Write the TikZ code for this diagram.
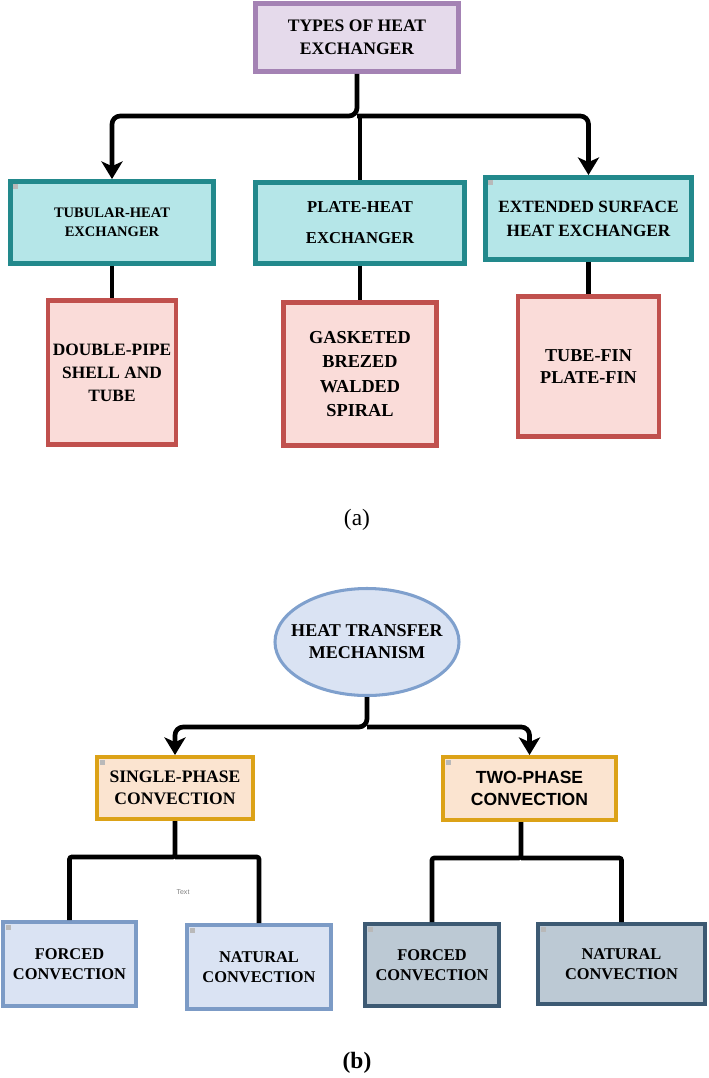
\documentclass[tikz,border=0pt]{standalone}
\usepackage{fontspec}
\setmainfont{Liberation Serif}
\newfontfamily\arialfont{Liberation Sans}
\usetikzlibrary{arrows.meta}
\usetikzlibrary{shapes.geometric}

\definecolor{lavender}{HTML}{E5DAEB}
\definecolor{purpleline}{HTML}{A482B4}
\definecolor{lightcyan}{HTML}{B5E6E8}
\definecolor{tealline}{HTML}{22898C}
\definecolor{pinkfill}{HTML}{FADCD9}
\definecolor{redline}{HTML}{C0504D}
\definecolor{paleblue}{HTML}{DAE3F3}
\definecolor{ellipseline}{HTML}{7FA0CD}
\definecolor{peach}{HTML}{FBE4D0}
\definecolor{goldline}{HTML}{DCA217}
\definecolor{blueline}{HTML}{7C9BC6}
\definecolor{slatefill}{HTML}{BCC9D4}
\definecolor{slateline}{HTML}{3D5A73}

\newcommand{\boxfont}[2]{\fontsize{#1}{#2}\selectfont\bfseries}

\tikzset{
    box/.style={draw, rectangle, align=center, inner sep=0pt},
    typebox/.style={box, draw=purpleline, fill=lavender, line width=4.2pt},
    kindbox/.style={box, draw=tealline, fill=lightcyan, line width=4.2pt},
    listbox/.style={box, draw=redline, fill=pinkfill, line width=4.2pt},
    phasebox/.style={box, draw=goldline, fill=peach, line width=3.4pt},
    singlebox/.style={box, draw=blueline, fill=paleblue, line width=3.4pt,
        font=\boxfont{14pt}{17pt}},
    twobox/.style={box, draw=slateline, fill=slatefill, line width=3.4pt,
        font=\boxfont{14pt}{17pt}},
    link/.style={line width=4pt, black},
    arrowed/.style={-{Stealth[length=15pt,width=18pt,inset=4pt]}},
    collapseicon/.style={fill=gray!55},
}

\begin{document}
\begin{tikzpicture}[x=0.03cm, y=-0.03cm]
    \useasboundingbox (0,0) rectangle (709,1078);

    \node[typebox, minimum width=6.09cm, minimum height=2.04cm, font=\boxfont{15pt}{19.6pt}]
        (types) at (357,37.5) {TYPES OF HEAT\\EXCHANGER};

    \node[kindbox, minimum width=6.09cm, minimum height=2.46cm, font=\boxfont{12.4pt}{16.2pt}]
        (tubular) at (112,222.5) {TUBULAR-HEAT\\EXCHANGER};
    \node[kindbox, minimum width=6.27cm, minimum height=2.43cm, font=\boxfont{14.2pt}{26.5pt}]
        (plate) at (360,223) {PLATE-HEAT\\EXCHANGER};
    \node[kindbox, minimum width=6.18cm, minimum height=2.46cm, font=\boxfont{14.7pt}{20.5pt}]
        (extended) at (588.5,218.5) {EXTENDED SURFACE\\HEAT EXCHANGER};

    \node[listbox, minimum width=3.84cm, minimum height=4.32cm, font=\boxfont{14.8pt}{19.6pt}]
        (tubularlist) at (112,372.5) {DOUBLE-PIPE\\SHELL AND\\TUBE};
    \node[listbox, minimum width=4.59cm, minimum height=4.29cm, font=\boxfont{15.6pt}{21pt}]
        (platelist) at (360,374) {GASKETED\\BREZED\\WALDED\\SPIRAL};
    \node[listbox, minimum width=4.23cm, minimum height=4.2cm, font=\boxfont{15.5pt}{19.4pt}]
        (extendedlist) at (588.5,366.5) {TUBE-FIN\\PLATE-FIN};

    \node[font=\fontsize{20pt}{24pt}\selectfont] (captiona) at (357,520) {(a)};

    \coordinate (busA) at (357,116);
    \draw[link, rounded corners=7pt, arrowed] (types.south) -- (busA) -| (tubular.north);
    \draw[link, rounded corners=7pt, arrowed] (busA) -| (extended.north);
    \draw[link] (plate.north |- busA) -- (plate.north);
    \draw[link] (tubular.south) -- (tubularlist.north);
    \draw[link] (plate.south) -- (platelist.north);
    \draw[link] (extended.south) -- (extendedlist.north);

    \node[ellipse, draw=ellipseline, fill=paleblue, line width=2.6pt, minimum width=5.52cm,
        minimum height=3.21cm, inner xsep=-12pt, inner ysep=0pt, align=center,
        font=\boxfont{15.4pt}{18.8pt}] (mechanism) at (367,642) {HEAT TRANSFER\\MECHANISM};

    \node[phasebox, minimum width=4.68cm, minimum height=1.86cm, font=\boxfont{15pt}{18.8pt}]
        (single) at (175,788) {SINGLE-PHASE\\CONVECTION};
    \node[phasebox, minimum width=5.19cm, minimum height=1.89cm, font=\arialfont\boxfont{15pt}{18.8pt}]
        (two) at (529.5,788.5) {TWO-PHASE\\CONVECTION};

    \node[singlebox, minimum width=3.99cm, minimum height=2.52cm]
        (forcedA) at (69.5,964) {FORCED\\CONVECTION};
    \node[singlebox, minimum width=4.32cm, minimum height=2.52cm]
        (naturalA) at (259,967) {NATURAL\\CONVECTION};
    \node[twobox, minimum width=4.02cm, minimum height=2.46cm]
        (forcedB) at (432,965) {FORCED\\CONVECTION};
    \node[twobox, minimum width=5.01cm, minimum height=2.4cm]
        (naturalB) at (621.5,964) {NATURAL\\CONVECTION};

    \node[font=\arialfont\fontsize{6pt}{7pt}\selectfont, text=gray] (textlabel) at (183,892) {Text};

    \node[font=\bfseries\fontsize{20pt}{24pt}\selectfont] (captionb) at (357,1063) {(b)};

    \coordinate (busB) at (367,727);
    \draw[link, rounded corners=7pt, arrowed] (mechanism.south) -- (busB) -| (single.north);
    \draw[link, rounded corners=7pt, arrowed] (busB) -| (two.north);

    \coordinate (singlejoint) at (175,857);
    \draw[link, rounded corners=2pt] (single.south) -- (singlejoint) -| (forcedA.north);
    \draw[link, rounded corners=2pt] (singlejoint) -| (naturalA.north);
    \coordinate (twojoint) at (521,858);
    \draw[link, rounded corners=2pt] (twojoint |- two.south) -- (twojoint) -| (forcedB.north);
    \draw[link, rounded corners=2pt] (twojoint) -| (naturalB.north);

    \foreach \boxname in {tubular, extended, single, two, forcedA, naturalA, forcedB, naturalB}
        \fill[collapseicon] ([shift={(5,5)}]\boxname.north west) rectangle ++(5,5);
\end{tikzpicture}
\end{document}
